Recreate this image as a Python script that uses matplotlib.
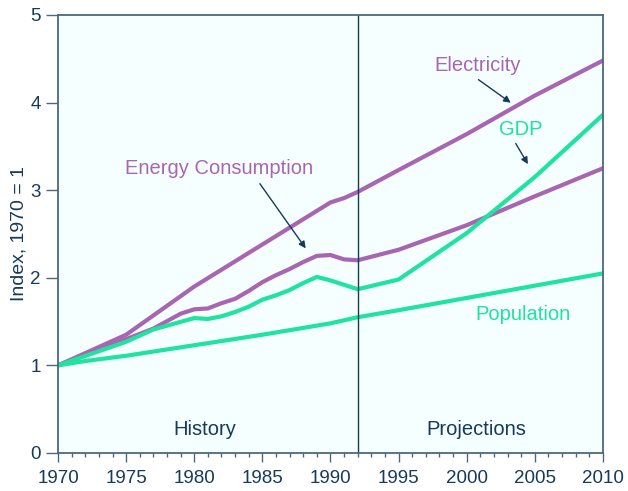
import matplotlib
matplotlib.use("Agg")
import matplotlib.pyplot as plt
from matplotlib.ticker import MultipleLocator

plt.rcParams['font.family'] = ['Liberation Sans', 'DejaVu Sans']

# data (index, 1970 = 1)
elec_years = [1970, 1975, 1980, 1985, 1990, 1991, 1992, 1995, 2000, 2005, 2010]
elec_vals = [1.00, 1.35, 1.90, 2.38, 2.86, 2.91, 2.98, 3.23, 3.64, 4.08, 4.48]

energy_years = [1970, 1975, 1977, 1979, 1980, 1981, 1982, 1983, 1984, 1985, 1986,
                1987, 1988, 1989, 1990, 1991, 1992, 1995, 2000, 2005, 2010]
energy_vals = [1.00, 1.30, 1.42, 1.59, 1.64, 1.65, 1.71, 1.76, 1.85, 1.95, 2.03,
               2.10, 2.18, 2.25, 2.26, 2.21, 2.20, 2.32, 2.60, 2.93, 3.25]

gdp_years = [1970, 1975, 1977, 1980, 1981, 1982, 1983, 1984, 1985, 1986, 1987,
             1988, 1989, 1990, 1991, 1992, 1995, 2000, 2005, 2010]
gdp_vals = [1.00, 1.27, 1.41, 1.54, 1.53, 1.56, 1.61, 1.67, 1.75, 1.80, 1.86,
            1.94, 2.01, 1.97, 1.92, 1.87, 1.98, 2.51, 3.15, 3.86]

pop_years = [1970, 1972, 1975, 1980, 1985, 1990, 1992, 1995, 2000, 2005, 2010]
pop_vals = [1.00, 1.05, 1.11, 1.23, 1.35, 1.48, 1.55, 1.63, 1.77, 1.91, 2.05]

x_ticks = [1970, 1975, 1980, 1985, 1990, 1995, 2000, 2005, 2010]
y_ticks = [0, 1, 2, 3, 4, 5]

purple = '#a865b2'
green = '#1fe39e'
navy = '#173a5a'
spine = '#4d687c'

fig = plt.figure(figsize=(6.28, 4.91), dpi=100)
ax = fig.add_axes([0.0924, 0.0774, 0.8676, 0.8921])
ax.set_facecolor('#f5ffff')

ax.plot(elec_years, elec_vals, color=purple, lw=3, solid_joinstyle='round')
ax.plot(energy_years, energy_vals, color=purple, lw=3, solid_joinstyle='round')
ax.plot(gdp_years, gdp_vals, color=green, lw=3, solid_joinstyle='round')
ax.plot(pop_years, pop_vals, color=green, lw=3, solid_joinstyle='round')

ax.axvline(1992, color=navy, lw=1)

ax.set_xlim(1970, 2010)
ax.set_ylim(0, 5)
ax.set_xticks(x_ticks)
ax.set_yticks(y_ticks)
ax.xaxis.set_minor_locator(MultipleLocator(1))
ax.tick_params(axis='x', which='major', length=6.5, width=1, color=spine,
               labelsize=13.5, labelcolor=navy, pad=6)
ax.tick_params(axis='x', which='minor', length=3, width=1, color=spine)
ax.tick_params(axis='y', which='major', length=8.5, width=1, color=spine,
               labelsize=13.5, labelcolor=navy, pad=4)
for s in ax.spines.values():
    s.set_color(spine)
    s.set_linewidth(1.3)

ax.set_ylabel('Index, 1970 = 1', color=navy, fontsize=14, labelpad=2)

fs = 14.5
ax.text(1980.8, 0.27, 'History', color=navy, fontsize=fs, ha='center', va='center')
ax.text(2000.7, 0.27, 'Projections', color=navy, fontsize=fs, ha='center', va='center')

arrow = dict(arrowstyle='-|>', color=navy, lw=1, mutation_scale=10)
ax.text(2000.8, 4.42, 'Electricity', color=purple, fontsize=fs, ha='center', va='center')
ax.annotate('', xy=(2003.4, 3.98), xytext=(2000.7, 4.28), arrowprops=arrow)
ax.text(2004.0, 3.69, 'GDP', color=green, fontsize=fs, ha='center', va='center')
ax.annotate('', xy=(2004.6, 3.27), xytext=(2003.5, 3.56), arrowprops=arrow)
ax.text(1981.8, 3.25, 'Energy Consumption', color=purple, fontsize=fs,
        ha='center', va='center')
ax.annotate('', xy=(1988.3, 2.31), xytext=(1984.7, 3.1), arrowprops=arrow)
ax.text(2004.1, 1.58, 'Population', color=green, fontsize=fs, ha='center', va='center')

fig.savefig('out.png', dpi=100)
